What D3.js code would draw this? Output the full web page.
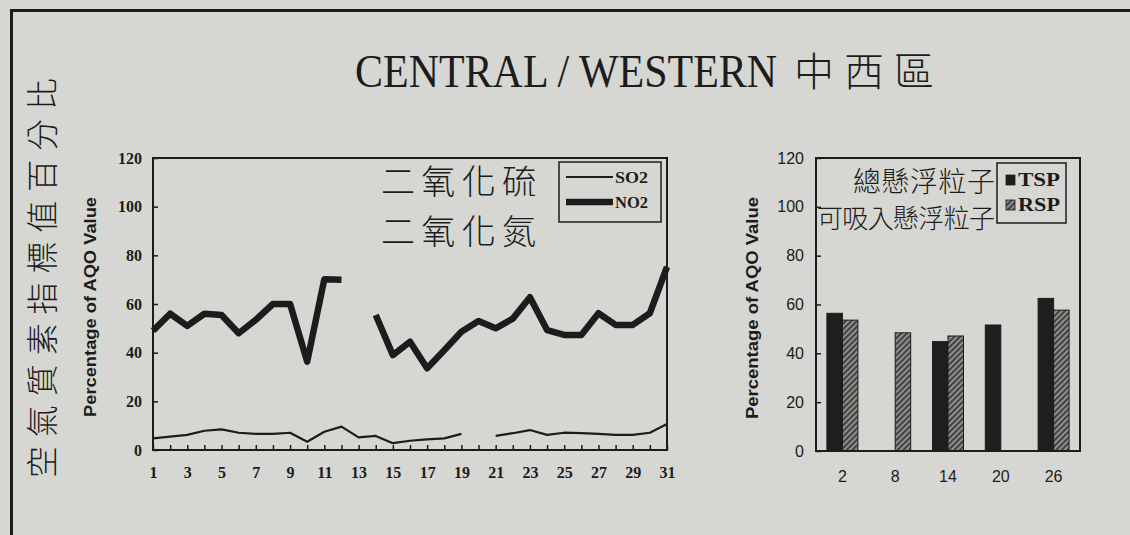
<!DOCTYPE html>
<html><head><meta charset="utf-8">
<script src="https://cdn.jsdelivr.net/npm/d3@7"></script>
<style>
html,body{margin:0;padding:0;background:#d6d6d3;}
svg{display:block;}
</style></head><body>
<svg id="c" width="1130" height="535"></svg>
<script>
// ---------- data ----------
const days = [1,2,3,4,5,6,7,8,9,10,11,12,13,14,15,16,17,18,19,20,21,22,23,24,25,26,27,28,29,30,31];
const dayLabels = [1,3,5,7,9,11,13,15,17,19,21,23,25,27,29,31];
const so2 = [4.8,5.5,6.2,7.9,8.5,7.1,6.6,6.6,7.1,3.4,7.5,9.6,5.2,5.8,2.8,3.8,4.4,4.8,6.6,null,5.8,6.9,8.2,6.2,7.1,6.9,6.6,6.2,6.2,7.1,10.7];
const no2 = [49,56,51,56,55.5,48,53.5,60,60,36.3,70.2,70,null,55.5,39,44.5,33.6,41,48.6,53,50,54,62.8,49.3,47.3,47.3,56.2,51.4,51.4,56.2,75.3];
const lineSeries = ["SO2","NO2"];
const yTicks = [0,20,40,60,80,100,120];
const barDays = ["2","8","14","20","26"];
const barSeries = ["TSP","RSP"];
const tsp = [56.4,null,44.8,51.6,62.5];
const rsp = [53.6,48.4,47.1,null,57.7];
const title = "CENTRAL / WESTERN";
const titleZh = "中西區";
const sideNote = "空氣質素指標值百分比";
const yLabel = "Percentage of AQO Value";
const leftNotes = ["二氧化硫","二氧化氮"];
const rightNotes = ["總懸浮粒子","可吸入懸浮粒子"];

// ---------- setup ----------
const svg = d3.select("#c");
const INK = "#1c1c1c";
const SERIF = "'Liberation Serif','Times New Roman',serif";
const SANS = "'Liberation Sans Narrow','Liberation Sans',Arial,sans-serif";
const SANS2 = "'Liberation Sans',Arial,sans-serif";
const CJK = "'Noto Sans CJK TC','Noto Sans CJK SC',sans-serif";

const defs = svg.append("defs");
const pat = defs.append("pattern").attr("id","hatch").attr("patternUnits","userSpaceOnUse")
  .attr("width",4).attr("height",4).attr("patternTransform","rotate(45)");
pat.append("rect").attr("width",4).attr("height",4).attr("fill","#8e8e8c");
pat.append("rect").attr("width",1.8).attr("height",4).attr("fill","#3a3a3a");

// page frame
svg.append("path").attr("d","M11.5,535 L11.5,10.5 L1130,10.5")
  .attr("fill","none").attr("stroke",INK).attr("stroke-width",3);

// title
svg.append("text").attr("transform","translate(355,87) scale(1,1.1)").attr("font-family",SERIF).attr("font-size",42)
  .attr("fill",INK).text(title);
svg.append("text").attr("x",794).attr("y",86).attr("font-family",CJK).attr("font-size",40)
  .attr("font-weight",300).attr("fill",INK).attr("textLength",140).attr("lengthAdjust","spacing").text(titleZh);

// side vertical note
svg.append("text").attr("transform","translate(54,478) rotate(-90)")
  .attr("font-family",CJK).attr("font-size",32).attr("font-weight",300).attr("fill",INK)
  .attr("textLength",400).attr("lengthAdjust","spacing").text(sideNote);

// ---------- left line chart ----------
const xL = d3.scaleLinear().domain([1,31]).range([153,667]);
const yL = d3.scaleLinear().domain([0,120]).range([450,158]);

const gL = svg.append("g");
gL.append("rect").attr("x",xL(1)).attr("y",yL(120)).attr("width",xL(31)-xL(1)).attr("height",yL(0)-yL(120))
  .attr("fill","none").attr("stroke",INK).attr("stroke-width",2);

const axYL = gL.append("g").attr("transform",`translate(${xL(1)},0)`)
  .call(d3.axisLeft(yL).tickValues(yTicks).tickSizeInner(-5).tickSizeOuter(0).tickPadding(11));
axYL.select(".domain").remove();
axYL.selectAll("line").attr("stroke",INK).attr("stroke-width",1.5);
axYL.selectAll("text").attr("font-family",SERIF).attr("font-weight","bold").attr("font-size",16).attr("fill",INK);

const axXL = gL.append("g").attr("transform",`translate(0,${yL(0)})`)
  .call(d3.axisBottom(xL).tickValues(days).tickSizeInner(-5).tickSizeOuter(0).tickPadding(17)
    .tickFormat(d => dayLabels.includes(d) ? d : ""));
axXL.select(".domain").remove();
axXL.selectAll("line").attr("stroke",INK).attr("stroke-width",1.5);
axXL.selectAll("text").attr("font-family",SERIF).attr("font-weight","bold").attr("font-size",16).attr("fill",INK);

const lineGen = d3.line().defined(d => d[1] != null).x(d => xL(d[0])).y(d => yL(d[1]));
gL.append("path").datum(days.map((d,i)=>[d,so2[i]])).attr("d",lineGen)
  .attr("fill","none").attr("stroke",INK).attr("stroke-width",2.2).attr("stroke-linejoin","round");
gL.append("path").datum(days.map((d,i)=>[d,no2[i]])).attr("d",lineGen)
  .attr("fill","none").attr("stroke",INK).attr("stroke-width",6.5).attr("stroke-linejoin","round");

// left y label
svg.append("text").attr("transform","translate(96,307) rotate(-90)").attr("text-anchor","middle")
  .attr("font-family",SANS).attr("font-weight","bold").attr("font-size",17).attr("fill",INK)
  .attr("textLength",220).attr("lengthAdjust","spacingAndGlyphs").text(yLabel);

// left notes
leftNotes.forEach((t,i)=>{
  svg.append("text").attr("x",381).attr("y",194+i*50).attr("font-family",CJK).attr("font-size",34)
    .attr("font-weight",300).attr("fill",INK).attr("textLength",155).attr("lengthAdjust","spacing").text(t);
});

// left legend
const lgL = svg.append("g");
lgL.append("rect").attr("x",559).attr("y",162).attr("width",102).attr("height",60)
  .attr("fill","none").attr("stroke",INK).attr("stroke-width",1.5);
lineSeries.forEach((s,i)=>{
  const y = 177 + i*25;
  lgL.append("line").attr("x1",566).attr("x2",613).attr("y1",y).attr("y2",y)
    .attr("stroke",INK).attr("stroke-width",i===0?1.8:6.5);
  lgL.append("text").attr("x",615).attr("y",y+5.5).attr("font-family",SERIF).attr("font-weight","bold")
    .attr("font-size",16).attr("fill",INK).attr("textLength",33).attr("lengthAdjust","spacingAndGlyphs").text(s);
});

// ---------- right bar chart ----------
const xR = d3.scaleBand().domain(barDays).range([816,1080]).paddingInner(0.413).paddingOuter(0.2065);
const xS = d3.scaleBand().domain(barSeries).range([0,xR.bandwidth()]);
const yR = d3.scaleLinear().domain([0,120]).range([451,158]);

const gR = svg.append("g");
const barData = [];
barDays.forEach((d,i)=>{
  if (tsp[i]!=null) barData.push({day:d,s:"TSP",v:tsp[i]});
  if (rsp[i]!=null) barData.push({day:d,s:"RSP",v:rsp[i]});
});
gR.selectAll("rect.bar").data(barData).join("rect").attr("class","bar")
  .attr("x",d=>xR(d.day)+xS(d.s)).attr("width",xS.bandwidth())
  .attr("y",d=>yR(d.v)).attr("height",d=>yR(0)-yR(d.v))
  .attr("fill",d=>d.s==="TSP" ? "#1e1e1e" : "url(#hatch)")
  .attr("stroke",INK).attr("stroke-width",1);

gR.append("rect").attr("x",816).attr("y",yR(120)).attr("width",1080-816).attr("height",yR(0)-yR(120))
  .attr("fill","none").attr("stroke",INK).attr("stroke-width",2);

const axYR = gR.append("g").attr("transform","translate(816,0)")
  .call(d3.axisLeft(yR).tickValues(yTicks).tickSizeInner(-5).tickSizeOuter(0).tickPadding(12));
axYR.select(".domain").remove();
axYR.selectAll("line").attr("stroke",INK).attr("stroke-width",1.5);
axYR.selectAll("text").attr("font-family",SANS2).attr("font-size",16).attr("fill",INK);

const axXR = gR.append("g").attr("transform",`translate(0,${yR(0)})`)
  .call(d3.axisBottom(xR).tickSize(0).tickPadding(20));
axXR.select(".domain").remove();
axXR.selectAll("text").attr("font-family",SANS2).attr("font-size",16).attr("fill",INK);

svg.append("text").attr("transform","translate(758,308) rotate(-90)").attr("text-anchor","middle")
  .attr("font-family",SANS).attr("font-weight","bold").attr("font-size",17).attr("fill",INK)
  .attr("textLength",222).attr("lengthAdjust","spacingAndGlyphs").text(yLabel);

// right notes
svg.append("text").attr("x",853).attr("y",192).attr("font-family",CJK).attr("font-size",28)
  .attr("font-weight",300).attr("fill",INK).attr("textLength",142).attr("lengthAdjust","spacing").text(rightNotes[0]);
svg.append("text").attr("x",817).attr("y",228).attr("font-family",CJK).attr("font-size",26)
  .attr("font-weight",300).attr("fill",INK).attr("textLength",178).attr("lengthAdjust","spacing").text(rightNotes[1]);

// right legend
const lgR = svg.append("g");
lgR.append("rect").attr("x",997).attr("y",163).attr("width",69).attr("height",60)
  .attr("fill","none").attr("stroke",INK).attr("stroke-width",1.5);
barSeries.forEach((s,i)=>{
  const y = 180 + i*25;
  lgR.append("rect").attr("x",1006).attr("y",y-5).attr("width",9).attr("height",10)
    .attr("fill",i===0?"#1e1e1e":"url(#hatch)").attr("stroke",INK).attr("stroke-width",0.8);
  lgR.append("text").attr("x",1018).attr("y",y+6).attr("font-family",SERIF).attr("font-weight","bold")
    .attr("font-size",18).attr("fill",INK).attr("textLength",42).attr("lengthAdjust","spacingAndGlyphs").text(s);
});
</script>
</body></html>
